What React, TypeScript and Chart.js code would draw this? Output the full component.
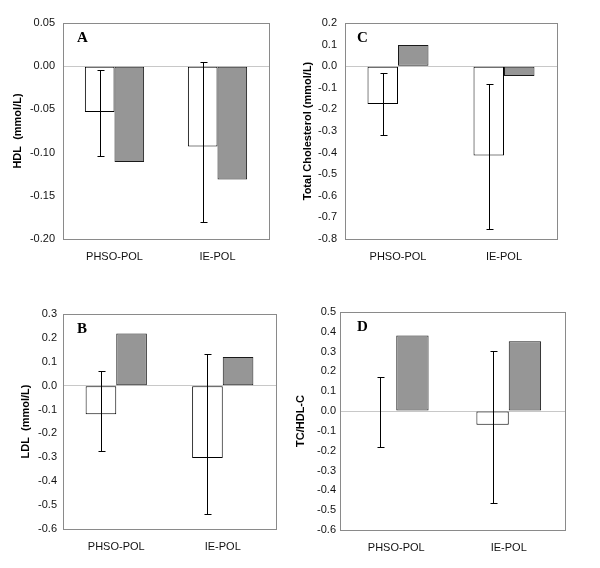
import React, { useEffect, useRef } from "react";
import { Chart, registerables } from "chart.js";

Chart.register(...registerables);

const categories = ["PHSO-POL", "IE-POL"];

// Panel A: HDL
const hdlWhite = [-0.053, -0.093];
const hdlGrey = [-0.111, -0.131];
const hdlErrLow = [-0.104, -0.18];
const hdlErrHigh = [-0.004, 0.005];

// Panel C: Total cholesterol
const tcWhite = [-0.175, -0.414];
const tcGrey = [0.098, -0.045];
const tcErrLow = [-0.32, -0.753];
const tcErrHigh = [-0.031, -0.083];

// Panel B: LDL
const ldlWhite = [-0.12, -0.303];
const ldlGrey = [0.218, 0.12];
const ldlErrLow = [-0.272, -0.536];
const ldlErrHigh = [0.063, 0.131];

// Panel D: TC/HDL-C
const ratioWhite = [0, -0.069];
const ratioGrey = [0.381, 0.353];
const ratioErrLow = [-0.182, -0.462];
const ratioErrHigh = [0.17, 0.302];

type Panel = {
  letter: string;
  title: string;
  white: number[];
  grey: number[];
  errLow: number[];
  errHigh: number[];
  min: number;
  max: number;
  step: number;
  decimals: number;
  box: { left: number; top: number; width: number; height: number };
  yWidth: number;
  xHeight: number;
  padTop: number;
  padRight: number;
  titlePad: number;
  tickPad: number;
  letterDx: number;
};

const panels: Panel[] = [
  {
    letter: "A", title: "HDL  (mmol/L)", white: hdlWhite, grey: hdlGrey, errLow: hdlErrLow, errHigh: hdlErrHigh,
    min: -0.2, max: 0.05, step: 0.05, decimals: 2,
    box: { left: 0, top: 0, width: 290, height: 284 }, yWidth: 63, xHeight: 45, padTop: 23, padRight: 21,
    titlePad: 11, tickPad: 8, letterDx: 14,
  },
  {
    letter: "C", title: "Total Cholesterol (mmol/L)", white: tcWhite, grey: tcGrey, errLow: tcErrLow, errHigh: tcErrHigh,
    min: -0.8, max: 0.2, step: 0.1, decimals: 1,
    box: { left: 290, top: 0, width: 310, height: 284 }, yWidth: 55, xHeight: 45, padTop: 23, padRight: 43,
    titlePad: 11, tickPad: 8, letterDx: 12,
  },
  {
    letter: "B", title: "LDL  (mmol/L)", white: ldlWhite, grey: ldlGrey, errLow: ldlErrLow, errHigh: ldlErrHigh,
    min: -0.6, max: 0.3, step: 0.1, decimals: 1,
    box: { left: 0, top: 284, width: 290, height: 284 }, yWidth: 63, xHeight: 39, padTop: 30, padRight: 14,
    titlePad: 19, tickPad: 6, letterDx: 14,
  },
  {
    letter: "D", title: "TC/HDL-C", white: ratioWhite, grey: ratioGrey, errLow: ratioErrLow, errHigh: ratioErrHigh,
    min: -0.6, max: 0.5, step: 0.1, decimals: 1,
    box: { left: 280, top: 284, width: 320, height: 284 }, yWidth: 60, xHeight: 38, padTop: 28, padRight: 35,
    titlePad: 14, tickPad: 4, letterDx: 17,
  },
];

const FONT = "'Liberation Sans', Arial, sans-serif";

function PanelChart({ p }: { p: Panel }) {
  const ref = useRef<HTMLCanvasElement>(null);
  useEffect(() => {
    if (!ref.current) return;
    const decorations = {
      id: "decor" + p.letter,
      afterDatasetsDraw(chart: any) {
        const ctx = chart.ctx;
        const y = chart.scales.y;
        const meta = chart.getDatasetMeta(0);
        ctx.save();
        ctx.strokeStyle = "#000";
        ctx.lineWidth = 1;
        p.errLow.forEach((lo, i) => {
          const bar = meta.data[i];
          const x = Math.round(bar.x) + 0.5;
          const y1 = Math.round(y.getPixelForValue(p.errHigh[i])) + 0.5;
          const y2 = Math.round(y.getPixelForValue(lo)) + 0.5;
          ctx.beginPath();
          ctx.moveTo(x, y1);
          ctx.lineTo(x, y2);
          ctx.moveTo(x - 3, y1);
          ctx.lineTo(x + 4, y1);
          ctx.moveTo(x - 3, y2);
          ctx.lineTo(x + 4, y2);
          ctx.stroke();
        });
        const a = chart.chartArea;
        ctx.strokeStyle = "#8a8a8a";
        ctx.strokeRect(Math.round(a.left) + 0.5, Math.round(a.top) + 0.5, Math.round(a.right - a.left), Math.round(a.bottom - a.top));
        ctx.fillStyle = "#000";
        ctx.font = "bold 15px 'Liberation Serif', 'Times New Roman', serif";
        ctx.textBaseline = "top";
        ctx.textAlign = "left";
        ctx.fillText(p.letter, a.left + p.letterDx, a.top + 8);
        ctx.restore();
      },
    };
    const chart = new Chart(ref.current, {
      type: "bar",
      data: {
        labels: categories,
        datasets: [
          { data: p.white, backgroundColor: "#ffffff", borderColor: "#000000", borderWidth: 1, borderSkipped: false },
          { data: p.grey, backgroundColor: "#969696", borderColor: "#1a1a1a", borderWidth: 1, borderSkipped: false },
        ],
      },
      options: {
        animation: false,
        responsive: false,
        maintainAspectRatio: false,
        events: [],
        datasets: { bar: { categoryPercentage: 0.575, barPercentage: 1 } },
        layout: { padding: { top: p.padTop, right: p.padRight, left: 0, bottom: 0 } },
        plugins: { legend: { display: false }, tooltip: { enabled: false }, title: { display: false } },
        scales: {
          x: {
            grid: { display: false, drawTicks: false },
            border: { display: false },
            ticks: { color: "#111", font: { family: FONT, size: 11 }, padding: 11, maxRotation: 0 },
            afterFit: (s: any) => { s.height = p.xHeight; },
          },
          y: {
            min: p.min,
            max: p.max,
            border: { display: false },
            grid: {
              drawTicks: false,
              color: (c: any) => (c.tick && Math.abs(c.tick.value) < 1e-9 ? "#c8c8c8" : "rgba(0,0,0,0)"),
            },
            ticks: {
              stepSize: p.step,
              color: "#111",
              padding: p.tickPad,
              font: { family: FONT, size: 11 },
              callback: (v: any) => Number(v).toFixed(p.decimals),
            },
            title: {
              display: true,
              text: p.title,
              color: "#000",
              font: { family: FONT, size: 11, weight: "bold" },
              padding: { top: p.titlePad, bottom: 0 },
            },
            afterFit: (s: any) => { s.width = p.yWidth; },
          },
        },
      },
      plugins: [decorations],
    });
    return () => chart.destroy();
  }, [p]);
  return (
    <canvas
      ref={ref}
      width={p.box.width}
      height={p.box.height}
      style={{ position: "absolute", left: p.box.left, top: p.box.top, width: p.box.width, height: p.box.height }}
    />
  );
}

export default function App() {
  return (
    <div style={{ position: "fixed", left: 0, top: 0, width: 600, height: 568, background: "#fff", overflow: "hidden" }}>
      {panels.map((p) => (
        <PanelChart key={p.letter} p={p} />
      ))}
    </div>
  );
}
